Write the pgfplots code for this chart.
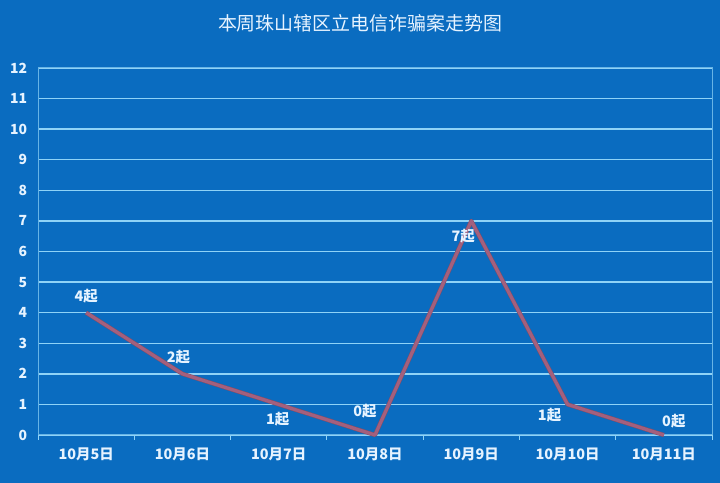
\documentclass[border=0pt]{standalone}
\usepackage{fontspec}
\setmainfont{Noto Sans CJK SC}
\usepackage{pgfplots}
\pgfplotsset{compat=1.18}
\definecolor{bg}{HTML}{0A6CC0}
\definecolor{gridc}{HTML}{8FD3F7}
\definecolor{linec}{HTML}{A3607E}
\definecolor{txt}{HTML}{E6F3FF}
\begin{document}
\begin{tikzpicture}[x=1bp,y=1bp]
\fill[bg] (0,0) rectangle (720,483);
\node[text=txt, font=\fontsize{19}{22}\selectfont] at (360,460) {本周珠山辖区立电信诈骗案走势图};
\begin{axis}[
  at={(38bp,48bp)}, anchor=south west, scale only axis,
  width=674bp, height=367bp,
  xmin=-0.5, xmax=6.5, ymin=0, ymax=12,
  ytick={0,...,12},
  xtick={0,...,6},
  xticklabels={10月5日,10月6日,10月7日,10月8日,10月9日,10月10日,10月11日},
  minor xtick={-0.5,0.5,...,6.5},
  major x tick style={draw=none},
  minor tick length=5bp,
  tick align=outside,
  tick pos=left,
  tick style={color=gridc, line width=1bp},
  ytick style={draw=none},
  ymajorgrids,
  grid style={color=gridc, line width=1.4bp},
  axis line style={color=gridc!70!bg, line width=1bp},
  /pgf/number format/assume math mode=true,
  ticklabel style={text=txt, font=\bfseries\fontsize{14}{16}\selectfont},
  xticklabel style={yshift=-5bp, font=\bfseries\fontsize{14.5}{16}\selectfont},
  yticklabel style={xshift=-3bp},
  clip=false,
]
\addplot[color=linec!80!black, line width=4.2bp, line join=round] coordinates {(0,4) (1,2) (2,1) (3,0) (4,7) (5,1) (6,0)};
\addplot[color=linec, line width=3.2bp, line join=round] coordinates {(0,4) (1,2) (2,1) (3,0) (4,7) (5,1) (6,0)};
\begin{scope}[every node/.style={text=txt, font=\bfseries\fontsize{14.5}{16}\selectfont}]
\node at (axis cs:0,4) [yshift=17bp] {4起};
\node at (axis cs:1,2) [xshift=-4bp,yshift=17bp] {2起};
\node at (axis cs:2,1) [xshift=-1bp,yshift=-15bp] {1起};
\node at (axis cs:3,0) [xshift=-10bp,yshift=24bp] {0起};
\node at (axis cs:4,7) [xshift=-8bp,yshift=-15bp] {7起};
\node at (axis cs:5,1) [xshift=-18bp,yshift=-11bp] {1起};
\node at (axis cs:6,0) [xshift=10bp,yshift=14bp] {0起};
\end{scope}
\end{axis}
\end{tikzpicture}
\end{document}
